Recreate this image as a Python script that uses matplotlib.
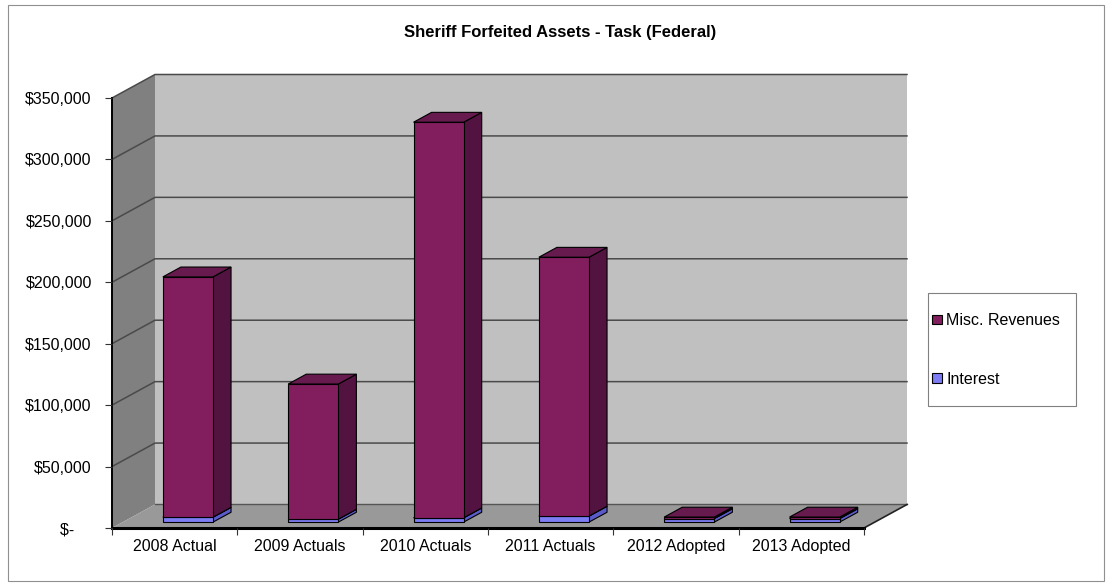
import numpy as np
import matplotlib.pyplot as plt
from matplotlib.patches import Patch, Rectangle
from matplotlib.ticker import FuncFormatter

plt.rcParams['font.family'] = ['Liberation Sans', 'DejaVu Sans']

### data
categories = ["2008 Actual", "2009 Actuals", "2010 Actuals",
              "2011 Actuals", "2012 Adopted", "2013 Adopted"]
interest = [4000, 2400, 3500, 4900, 2900, 2900]
misc_revenues = [195600, 110000, 322000, 210700, 1200, 1200]
series_names = ["Misc. Revenues", "Interest"]
y_ticks = [0, 50000, 100000, 150000, 200000, 250000, 300000, 350000]
y_max = 350000

### 3d look: oblique depth offset (category units / value units)
DX = 0.343
DY = 19130
bar_left = 0.32
bar_w = 0.40
d0, d1 = 0.25, 0.67

misc_cols = ("#821E5E", "#521340", "#671A4D")
int_cols = ("#7C7CF4", "#5A5AC8", "#6B6BDE")
wall_back = "#C0C0C0"
wall_side = "#808080"
floor_col = "#999999"


def proj(x, v, d):
    return x + d * DX, v + d * DY


def poly(ax, pts, color, ec="none", lw=0.0, z=1):
    xs = [p[0] for p in pts]
    ys = [p[1] for p in pts]
    patch = ax.fill(xs, ys, facecolor=color, edgecolor=ec, lw=lw,
                    clip_on=False, zorder=z)[0]
    return patch


def draw_box(ax, x0, x1, v0, v1, cols, z):
    front = [proj(x0, v0, d0), proj(x1, v0, d0), proj(x1, v1, d0), proj(x0, v1, d0)]
    side = [proj(x1, v0, d0), proj(x1, v0, d1), proj(x1, v1, d1), proj(x1, v1, d0)]
    top = [proj(x0, v1, d0), proj(x1, v1, d0), proj(x1, v1, d1), proj(x0, v1, d1)]
    poly(ax, side, cols[1], ec="black", lw=0.8, z=z)
    poly(ax, top, cols[2], ec="black", lw=0.8, z=z)
    poly(ax, front, cols[0], ec="black", lw=0.8, z=z)


fig = plt.figure(figsize=(11.13, 5.85), dpi=100)
W, H = 1113, 585
ax = fig.add_axes([112 / W, 57 / H, 752 / W, 430 / H])
ax.set_xlim(0, len(categories))
ax.set_ylim(0, y_max)
for s in ax.spines.values():
    s.set_visible(False)
ax.patch.set_visible(False)

n = len(categories)

# walls and floor
poly(ax, [proj(0, 0, 1), proj(n, 0, 1), proj(n, y_max, 1), proj(0, y_max, 1)], wall_back, z=0.5)
poly(ax, [proj(0, 0, 0), proj(0, 0, 1), proj(0, y_max, 1), proj(0, y_max, 0)], wall_side, z=0.5)
poly(ax, [proj(0, 0, 0), proj(n, 0, 0), proj(n, 0, 1), proj(0, 0, 1)], floor_col, z=0.6)

# gridlines on back wall and side wall
for v in y_ticks[1:]:
    xa, ya = proj(0, v, 0)
    xb, yb = proj(0, v, 1)
    xc, yc = proj(n, v, 1)
    ax.plot([xa, xb, xc], [ya, yb, yc], color="#4a4a4a", lw=1.1,
            clip_on=False, zorder=0.8)

# edges
xb, yb = proj(0, 0, 1)
xc, yc = proj(n, 0, 1)
ax.plot([xb, xc], [yb, yc], color="#555555", lw=1.0, clip_on=False, zorder=0.8)
xr, yr = proj(n, 0, 1)
ax.plot([n, xr], [0, yr], color="#222222", lw=1.2, clip_on=False, zorder=0.9)
ax.plot([0, 0], [0, y_max], color="black", lw=1.4, clip_on=False, zorder=0.9)
ax.plot([0, n], [0, 0], color="black", lw=2.2, clip_on=False, zorder=0.9)

# bars (stacked: interest on bottom, misc on top)
for i in range(n):
    x0 = i + bar_left
    x1 = x0 + bar_w
    draw_box(ax, x0, x1, 0, interest[i], int_cols, z=2 + i * 0.1)
    draw_box(ax, x0, x1, interest[i], interest[i] + misc_revenues[i], misc_cols,
             z=2.05 + i * 0.1)

# ticks
ax.set_yticks(y_ticks)
ax.yaxis.set_major_formatter(FuncFormatter(
    lambda v, p: "$-    " if v == 0 else "${:,.0f}".format(v)))
ax.tick_params(axis="y", length=5, width=0.8, pad=9.5, labelsize=11.5,
               color="#333333")
ax.set_xticks(np.arange(n + 1))
ax.set_xticklabels([])
ax.set_xticks(np.arange(n) + 0.5, minor=True)
ax.set_xticklabels(categories, minor=True)
ax.tick_params(axis="x", which="major", length=5, width=0.8, color="#333333")
ax.tick_params(axis="x", which="minor", length=0, pad=8, labelsize=11.5)

# title
fig.text(560 / W, 1 - 32 / H, "Sheriff Forfeited Assets - Task (Federal)",
         ha="center", va="center", fontsize=12, fontweight="bold")

# legend (frame drawn separately so the entries can sit close to its left edge)
fig.patches.append(Rectangle((928 / W, 1 - 406 / H), 148 / W, 113 / H,
                             transform=fig.transFigure, facecolor="white",
                             ec="#808080", lw=0.8))
handles = [Patch(facecolor=misc_cols[0], edgecolor="black", lw=0.8),
           Patch(facecolor=int_cols[0], edgecolor="black", lw=0.8)]
leg = fig.legend(handles, series_names, loc="center left",
                 bbox_to_anchor=(932 / W, 1 - 349.7 / H),
                 frameon=False, fontsize=11.5,
                 handlelength=0.65, handleheight=0.5, handletextpad=0.25,
                 labelspacing=2.75, borderpad=0, borderaxespad=0)

# chart area border
fig.patches.append(Rectangle((8 / W, 4 / H), 1096 / W, 576 / H,
                             transform=fig.transFigure, fill=False,
                             ec="#909090", lw=0.8))

plt.savefig("out.png", dpi=100)
